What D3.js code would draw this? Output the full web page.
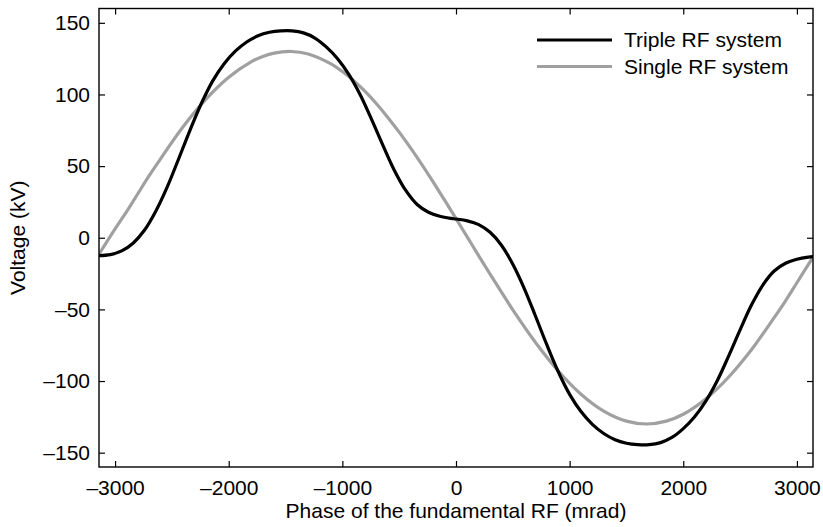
<!DOCTYPE html>
<html>
<head>
<meta charset="utf-8">
<script src="https://cdn.jsdelivr.net/npm/d3@7"></script>
<style>
  html, body { margin: 0; padding: 0; background: #fff; }
  svg { display: block; }
  text { font-family: "Liberation Sans", Arial, Helvetica, sans-serif; }
</style>
</head>
<body>
<svg id="chart" width="823" height="527"></svg>
<script>
// ---- data ----
const phaseTriple = [-3142, -3042, -2942, -2842, -2742, -2642, -2542, -2442, -2342, -2242, -2142, -2042, -1942, -1842, -1742, -1642, -1542, -1442, -1342, -1242, -1142, -1042, -942, -842, -742, -642, -542, -442, -342, -242, -142, -42, 0, 100, 200, 300, 400, 500, 600, 700, 800, 900, 1000, 1100, 1200, 1300, 1400, 1500, 1600, 1700, 1800, 1900, 2000, 2100, 2200, 2300, 2400, 2500, 2600, 2700, 2800, 2900, 3000, 3100, 3142];
const tripleRF = [-12.5, -11.8, -9.2, -3.8, 5.2, 18.5, 35.3, 54.8, 74.8, 93.5, 109.3, 121.3, 130.2, 136.6, 141, 143.4, 144.4, 144.4, 143, 139.4, 133.2, 124.9, 113.8, 99.6, 82.4, 64.3, 47, 33, 23.2, 17.8, 15, 13.5, 13.1, 11.8, 9.2, 3.8, -5.2, -18.5, -35.3, -54.8, -74.8, -93.5, -109.3, -121.3, -130.2, -136.6, -141, -143.4, -144.4, -144.4, -143, -139.4, -133.2, -124.9, -113.8, -99.6, -82.4, -64.3, -47, -33, -23.2, -17.8, -15, -13.5, -13.2];
const phaseSingle = [-3142, -3000, -2900, -2800, -2700, -2600, -2400, -2200, -2000, -1800, -1700, -1600, -1450, -1300, -1100, -1000, -900, -800, -700, -600, -500, -400, -300, -200, -100, 0, 100, 200, 300, 400, 500, 700, 900, 1100, 1300, 1500, 1680, 1850, 2000, 2200, 2400, 2600, 2700, 2800, 2900, 3000, 3142];
const singleRF = [-11.5, 6.2, 18, 30.7, 43.3, 55.1, 77.6, 96.7, 112, 122.9, 126.5, 128.9, 130, 128.2, 121.3, 116, 109.6, 102.1, 93.5, 84, 73.7, 62.7, 51, 38.8, 26.2, 13.4, 0.4, -12.6, -25.4, -38, -50.3, -73.1, -93, -109.2, -121, -128, -130, -128, -123.2, -112.4, -97.2, -78.2, -67.2, -55.8, -44, -31.4, -13.5];
const xTicks = [-3000, -2000, -1000, 0, 1000, 2000, 3000];
const yTicks = [-150, -100, -50, 0, 50, 100, 150];
const seriesNames = ["Triple RF system", "Single RF system"];
const xDomain = [-3141.6, 3141.6];
const yDomain = [-160, 160];

// ---- layout ----
const svg = d3.select("#chart");
const L = 99, R = 813, T = 8.5, B = 467;
const x = d3.scaleLinear().domain(xDomain).range([L, R]);
const y = d3.scaleLinear().domain(yDomain).range([B, T]);
const fmt = d => (d < 0 ? "\u2013" + Math.abs(d) : String(d));
const fs = 21;

svg.append("defs").append("clipPath").attr("id", "clip")
  .append("rect").attr("x", L).attr("y", T).attr("width", R - L).attr("height", B - T);

// lines
const line = (xs, ys) => d3.line()
  .x((d, i) => x(xs[i]))
  .y(d => y(d))
  .curve(d3.curveCatmullRom.alpha(0.5))(ys);

const g = svg.append("g").attr("clip-path", "url(#clip)");
g.append("path").attr("d", line(phaseSingle, singleRF))
  .attr("fill", "none").attr("stroke", "#a0a0a0").attr("stroke-width", 3.2);
g.append("path").attr("d", line(phaseTriple, tripleRF))
  .attr("fill", "none").attr("stroke", "#000").attr("stroke-width", 3.2);

// axes (ticks inward on all sides)
const tk = 6;
const axB = svg.append("g").attr("transform", `translate(0,${B})`)
  .call(d3.axisBottom(x).tickValues(xTicks).tickSize(-tk).tickPadding(13).tickFormat(fmt));
const axT = svg.append("g").attr("transform", `translate(0,${T})`)
  .call(d3.axisTop(x).tickValues(xTicks).tickSize(-tk).tickFormat(""));
const axL = svg.append("g").attr("transform", `translate(${L},0)`)
  .call(d3.axisLeft(y).tickValues(yTicks).tickSize(-tk).tickPadding(9).tickFormat(fmt));
const axR = svg.append("g").attr("transform", `translate(${R},0)`)
  .call(d3.axisRight(y).tickValues(yTicks).tickSize(-tk).tickFormat(""));
[axB, axT, axL, axR].forEach(a => {
  a.select(".domain").remove();
  a.selectAll("line").attr("stroke", "#000").attr("stroke-width", 1.2);
  a.selectAll("text").attr("fill", "#000").attr("font-size", fs)
    .attr("font-family", "'Liberation Sans', Arial, sans-serif");
});

svg.append("rect").attr("x", L).attr("y", T).attr("width", R - L).attr("height", B - T)
  .attr("fill", "none").attr("stroke", "#000").attr("stroke-width", 1.4);

// axis titles
svg.append("text").attr("x", (L + R) / 2).attr("y", 518).attr("text-anchor", "middle")
  .attr("font-size", fs).attr("fill", "#000").text("Phase of the fundamental RF (mrad)");
svg.append("text").attr("transform", `translate(25,${(T + B) / 2}) rotate(-90)`)
  .attr("text-anchor", "middle").attr("font-size", fs).attr("fill", "#000").text("Voltage (kV)");

// legend
const leg = svg.append("g");
const legColors = ["#000", "#a0a0a0"];
seriesNames.forEach((n, i) => {
  const yy = 40 + i * 26.5;
  leg.append("line").attr("x1", 537).attr("x2", 612).attr("y1", yy).attr("y2", yy)
    .attr("stroke", legColors[i]).attr("stroke-width", 3.2);
  leg.append("text").attr("x", 624).attr("y", yy).attr("dy", "0.35em")
    .attr("font-size", fs).attr("fill", "#000").text(n);
});
</script>
</body>
</html>
